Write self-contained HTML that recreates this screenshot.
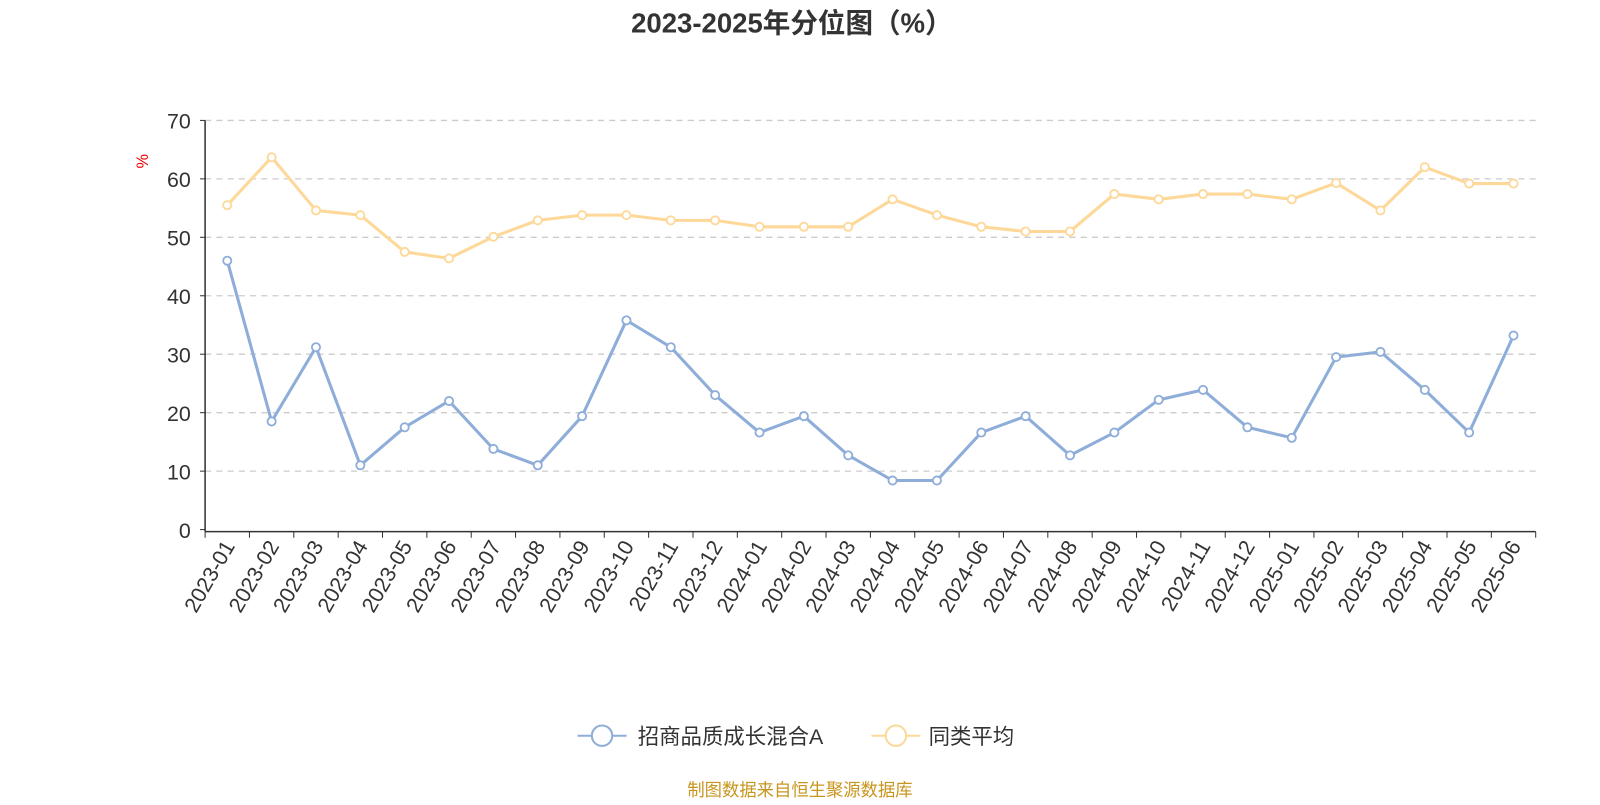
<!DOCTYPE html>
<html><head><meta charset="utf-8"><style>
body{margin:0;background:#fff;width:1600px;height:800px;overflow:hidden;font-family:"Liberation Sans","Noto Sans CJK SC",sans-serif}
</style></head><body>
<svg id="chart" width="1600" height="800" xmlns="http://www.w3.org/2000/svg" font-family="Liberation Sans, Noto Sans CJK SC, sans-serif">
<g transform="scale(1.0204)">
<text x="776" y="32" text-anchor="middle" font-size="27" font-weight="bold" fill="#333">2023-2025年分位图（%）</text>
<text x="145" y="158" font-size="16" fill="#e00" transform="rotate(-90 145 158)" text-anchor="middle">%</text>
<g id="grid"></g><g id="axes"></g><g id="series"></g>
<g>
<g>
<line x1="566" y1="721" x2="614" y2="721" stroke="#8eadd9" stroke-width="2"/><circle cx="590" cy="721" r="10" fill="#fff" stroke="#8eadd9" stroke-width="2"/>
<text x="625" y="729" font-size="21" fill="#333">招商品质成长混合A</text></g>
<g>
<line x1="854" y1="721" x2="902" y2="721" stroke="#fdd898" stroke-width="2"/><circle cx="878" cy="721" r="10" fill="#fff" stroke="#fdd898" stroke-width="2"/>
<text x="910" y="729" font-size="21" fill="#333">同类平均</text></g>
</g>
<text x="784" y="780" text-anchor="middle" font-size="17" fill="#c8961e">制图数据来自恒生聚源数据库</text>
<script>
</script>
</g>
</svg>
<script>
const categories=["2023-01","2023-02","2023-03","2023-04","2023-05","2023-06","2023-07","2023-08","2023-09","2023-10","2023-11","2023-12","2024-01","2024-02","2024-03","2024-04","2024-05","2024-06","2024-07","2024-08","2024-09","2024-10","2024-11","2024-12","2025-01","2025-02","2025-03","2025-04","2025-05","2025-06"];
const fundValues=[46,18.5,31.2,11,17.5,22,13.8,11,19.4,35.8,31.2,23,16.6,19.4,12.7,8.4,8.4,16.6,19.4,12.7,16.6,22.2,23.9,17.5,15.7,29.5,30.4,23.9,16.6,33.2];
const avgValues=[55.5,63.7,54.6,53.8,47.5,46.4,50.1,52.9,53.8,53.8,52.9,52.9,51.8,51.8,51.8,56.5,53.8,51.8,51,51,57.4,56.5,57.4,57.4,56.5,59.3,54.6,62,59.2,59.2];
const yTicks=[0,10,20,30,40,50,60,70];
const NS="http://www.w3.org/2000/svg";
const X0=201,X1=1505,Y0=519,Y1=118,YMAX=70;
const band=(X1-X0)/categories.length;
const xPos=i=>X0+band*(i+0.5);
const yPos=v=>Y0-(v/YMAX)*(Y0-Y1);
function mk(tag,attrs,parent){const e=document.createElementNS(NS,tag);for(const k in attrs)e.setAttribute(k,attrs[k]);parent.appendChild(e);return e;}
const grid=document.getElementById('grid'),axes=document.getElementById('axes'),series=document.getElementById('series');
yTicks.forEach(t=>{
  const y=yPos(t);
  if(t>0){const g=mk('line',{x1:X0,x2:X1,y1:y,y2:y,stroke:'#ccc','stroke-dasharray':'6,5','stroke-width':1.3},grid);
  
  }
  const tl=mk('line',{x1:X0-5,x2:X0,y1:y,y2:y,stroke:'#333'},axes);
  
  
  const tx=mk('text',{x:X0-14,y:y+8,'text-anchor':'end','font-size':21,fill:'#333'},axes);
  tx.textContent=t;
  
  
});
const ya=mk('line',{x1:X0,x2:X0,y1:Y1,y2:Y0+2,stroke:'#333','stroke-width':1.5},axes);


const xa=mk('line',{x1:X0,x2:X1,y1:Y0+2,y2:Y0+2,stroke:'#333','stroke-width':1.5},axes);


for(let i=0;i<=categories.length;i++){
  const x=X0+band*i;
  const t=mk('line',{x1:x,x2:x,y1:Y0+2,y2:Y0+8,stroke:'#333'},axes);
  
  
}
categories.forEach((c,i)=>{
  const x=xPos(i)+8,y=Y0+16;
  const t=mk('text',{x:x,y:y,'text-anchor':'end','font-size':21,fill:'#333',transform:`rotate(-60 ${x} ${y})`},axes);
  t.textContent=c;
  
  
});
function drawSeries(vals,color,name){
  const p=mk('polyline',{points:vals.map((v,i)=>xPos(i)+','+yPos(v)).join(' '),fill:'none',stroke:color,'stroke-width':3,'stroke-linejoin':'round'},series);
  
  
  vals.forEach((v,i)=>{
    const c=mk('circle',{cx:xPos(i),cy:yPos(v),r:4,fill:'#fff',stroke:color,'stroke-width':1.8},series);
    
    
  });
}
drawSeries(avgValues,'#fdd898','average');
drawSeries(fundValues,'#8eadd9','fund');
</script>
</body></html>
